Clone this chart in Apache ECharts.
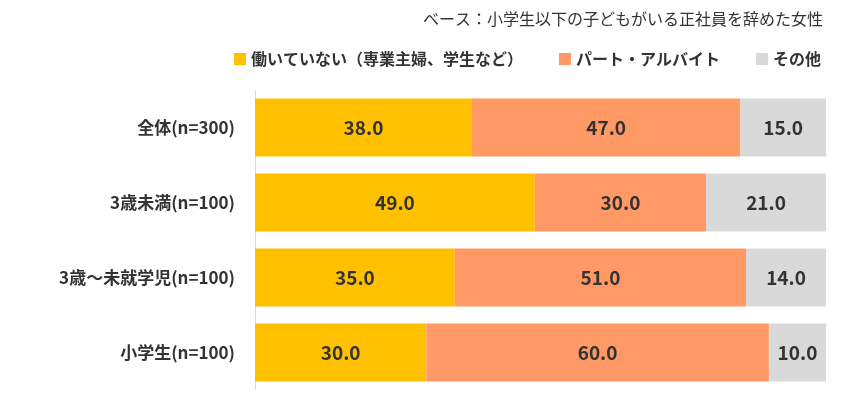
<!DOCTYPE html>
<html>
<head>
<meta charset="utf-8">
<script src="https://cdn.jsdelivr.net/npm/echarts@6/dist/echarts.min.js"></script>
<style>html,body{margin:0;padding:0;background:#fff}#main{width:846px;height:400px}</style>
</head>
<body>
<div id="main"></div>
<script>
var categories = ['全体(n=300)', '3歳未満(n=100)', '3歳～未就学児(n=100)', '小学生(n=100)'];
var notWorking = [38.0, 49.0, 35.0, 30.0];
var partTime = [47.0, 30.0, 51.0, 60.0];
var other = [15.0, 21.0, 14.0, 10.0];

var myChart = echarts.init(document.getElementById('main'));
var fontFamily = '"Noto Sans CJK JP", sans-serif';
var label = {
    show: true,
    color: '#333',
    fontSize: 19,
    fontWeight: 'bold',
    fontFamily: fontFamily,
    formatter: function (p) { return p.value.toFixed(1); }
};
var option = {
    animation: false,
    textStyle: { fontFamily: fontFamily },
    title: {
        text: 'ベース：小学生以下の子どもがいる正社員を辞めた女性',
        right: 18,
        top: 6,
        textStyle: { fontSize: 16, fontWeight: 'normal', color: '#333', fontFamily: fontFamily }
    },
    legend: {
        top: 46,
        right: 20,
        itemWidth: 12,
        itemHeight: 12,
        itemGap: 36,
        icon: 'rect',
        textStyle: { fontSize: 16, fontWeight: 'bold', color: '#333', fontFamily: fontFamily },
        data: ['働いていない（専業主婦、学生など）', 'パート・アルバイト', 'その他']
    },
    grid: { left: 255, right: 20, top: 90, bottom: 10 },
    xAxis: { type: 'value', min: 0, max: 100, show: false },
    yAxis: {
        type: 'category',
        inverse: true,
        data: categories,
        axisTick: { show: false },
        axisLine: { lineStyle: { color: '#d9d9d9' } },
        axisLabel: { fontSize: 17, fontWeight: 'bold', color: '#333', margin: 20, fontFamily: fontFamily }
    },
    series: [
        { name: '働いていない（専業主婦、学生など）', type: 'bar', stack: 'a', barWidth: 58, data: notWorking, itemStyle: { color: '#FFC000' }, label: label },
        { name: 'パート・アルバイト', type: 'bar', stack: 'a', data: partTime, itemStyle: { color: '#FF9966' }, label: label },
        { name: 'その他', type: 'bar', stack: 'a', data: other, itemStyle: { color: '#D9D9D9' }, label: label }
    ]
};
myChart.setOption(option, true);
</script>
</body>
</html>
